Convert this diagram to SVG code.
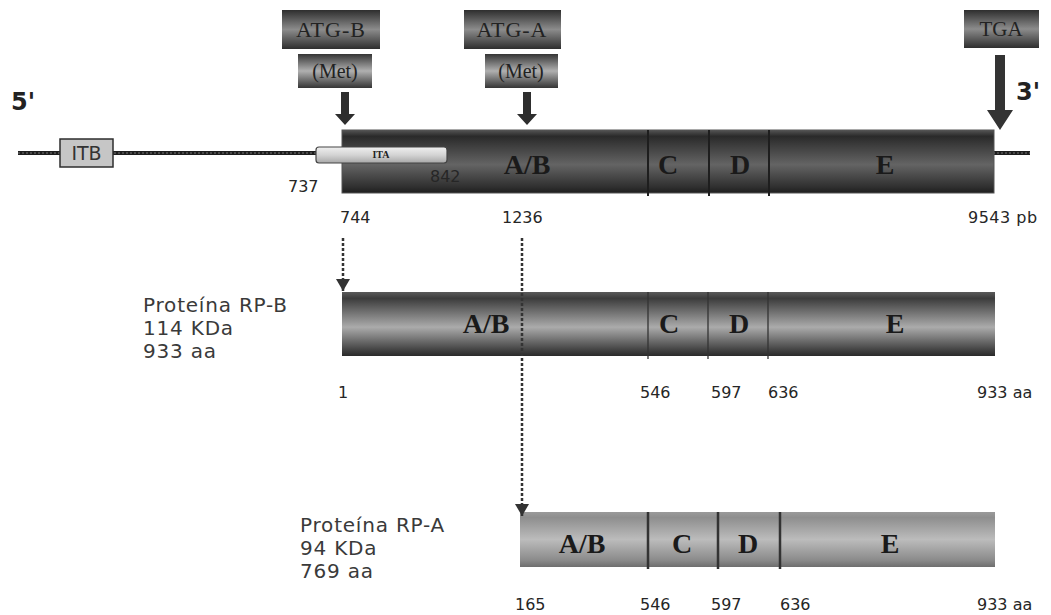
<svg xmlns="http://www.w3.org/2000/svg" width="1051" height="615" viewBox="0 0 1051 615">
<style>
.lbl{font-family:"Liberation Serif",serif;font-weight:bold;fill:#1a1a1a;text-anchor:middle}
.box{font-family:"Liberation Serif",serif;fill:#222;text-anchor:middle}
.num{font-family:"DejaVu Sans",sans-serif;font-size:16px;fill:#262626}
.prot{font-family:"DejaVu Sans",sans-serif;font-size:20px;letter-spacing:0.8px;fill:#3a3a3a}
.end{font-family:"DejaVu Sans",sans-serif;font-weight:bold;font-size:24px;fill:#222}
.div{stroke:#1e1e1e;stroke-width:2}
.dot{stroke:#333;stroke-width:2.5;stroke-dasharray:3 2;fill:none}
</style>
<defs>
<linearGradient id="gGene" x1="0" y1="0" x2="0" y2="1">
<stop offset="0" stop-color="#555"/><stop offset="0.1" stop-color="#2a2a2a"/><stop offset="0.55" stop-color="#646464"/><stop offset="0.9" stop-color="#303030"/><stop offset="1" stop-color="#1e1e1e"/>
</linearGradient>
<linearGradient id="gB" x1="0" y1="0" x2="0" y2="1">
<stop offset="0" stop-color="#5a5a5a"/><stop offset="0.1" stop-color="#3c3c3c"/><stop offset="0.55" stop-color="#ababab"/><stop offset="0.9" stop-color="#444"/><stop offset="1" stop-color="#2a2a2a"/>
</linearGradient>
<linearGradient id="gA" x1="0" y1="0" x2="0" y2="1">
<stop offset="0" stop-color="#9a9a9a"/><stop offset="0.1" stop-color="#8e8e8e"/><stop offset="0.5" stop-color="#bcbcbc"/><stop offset="0.88" stop-color="#8a8a8a"/><stop offset="1" stop-color="#6e6e6e"/>
</linearGradient>
<linearGradient id="gBox" x1="0" y1="0" x2="0" y2="1">
<stop offset="0" stop-color="#2e2e2e"/><stop offset="0.5" stop-color="#8c8c8c"/><stop offset="1" stop-color="#2e2e2e"/>
</linearGradient>
<linearGradient id="gMet" x1="0" y1="0" x2="0" y2="1">
<stop offset="0" stop-color="#353535"/><stop offset="0.5" stop-color="#b0b0b0"/><stop offset="1" stop-color="#353535"/>
</linearGradient>
<linearGradient id="gITA" x1="0" y1="0" x2="0" y2="1">
<stop offset="0" stop-color="#f0f0f0"/><stop offset="0.5" stop-color="#d4d4d4"/><stop offset="1" stop-color="#a8a8a8"/>
</linearGradient>
<marker id="tri" viewBox="0 0 14 12" refX="7" refY="12" markerWidth="14" markerHeight="12" orient="0" markerUnits="userSpaceOnUse">
<path d="M0,0 L14,0 L7,12 z" fill="#333"/>
</marker>
</defs>
<rect width="1051" height="615" fill="#fff"/>

<g id="dna">
<line x1="18" y1="153" x2="316" y2="153" stroke="#1e1e1e" stroke-width="4"/>
<line x1="18" y1="153" x2="316" y2="153" stroke="#777" stroke-width="1" stroke-dasharray="2 2"/>
<line x1="993" y1="153" x2="1030" y2="153" stroke="#1e1e1e" stroke-width="4"/>
<line x1="993" y1="153" x2="1030" y2="153" stroke="#777" stroke-width="1" stroke-dasharray="2 2"/>
<text class="end" x="11" y="110">5'</text>
<text class="end" x="1016" y="100">3'</text>
</g>

<g id="itb">
<rect x="60" y="139" width="53" height="28" fill="#c6c6c6" stroke="#2e2e2e" stroke-width="1.5"/>
<text x="86.5" y="160" font-family="DejaVu Sans, sans-serif" font-size="19" fill="#333" text-anchor="middle">ITB</text>
</g>

<g id="gene">
<rect x="342" y="130" width="652" height="63" fill="url(#gGene)" stroke="#555" stroke-width="1"/>
<line class="div" x1="648" y1="130" x2="648" y2="196"/>
<line class="div" x1="709" y1="130" x2="709" y2="196"/>
<line class="div" x1="769" y1="130" x2="769" y2="196"/>
<text class="lbl" x="527" y="174" font-size="28">A/B</text>
<text class="lbl" x="668" y="174" font-size="28">C</text>
<text class="lbl" x="740" y="174" font-size="28">D</text>
<text class="lbl" x="885" y="174" font-size="28">E</text>
<text class="num" x="288" y="192">737</text>
<text class="num" x="430" y="182">842</text>
<text class="num" x="340" y="223">744</text>
<text class="num" x="502" y="223">1236</text>
<text class="num" x="968" y="223" letter-spacing="0.5">9543 pb</text>
</g>

<g id="ita">
<rect x="316" y="147" width="131" height="16" rx="3" fill="url(#gITA)" stroke="#444" stroke-width="1.2"/>
<text x="381" y="158" font-family="Liberation Serif, serif" font-weight="bold" font-size="10" fill="#222" text-anchor="middle">ITA</text>
</g>

<g id="atgB">
<rect x="282" y="10" width="98" height="39" fill="url(#gBox)"/>
<text class="box" x="331" y="37" font-size="22" letter-spacing="1">ATG-B</text>
<rect x="298" y="54" width="74" height="34" fill="url(#gMet)"/>
<text class="box" x="335" y="78" font-size="20" fill="#3a3a3a">(Met)</text>
</g>

<g id="atgA">
<rect x="464" y="10" width="97" height="39" fill="url(#gBox)"/>
<text class="box" x="512" y="37" font-size="22" letter-spacing="1">ATG-A</text>
<rect x="485" y="54" width="73" height="34" fill="url(#gMet)"/>
<text class="box" x="521" y="78" font-size="20" fill="#3a3a3a">(Met)</text>
</g>

<g id="tga">
<rect x="964" y="10" width="75" height="38" fill="url(#gBox)"/>
<text class="box" x="1001" y="36" font-size="21">TGA</text>
</g>

<g id="protB">
<rect x="342" y="292" width="653" height="64" fill="url(#gB)"/>
<line stroke="#333" stroke-width="1.3" x1="648" y1="292" x2="648" y2="359"/>
<line stroke="#333" stroke-width="1.3" x1="708" y1="292" x2="708" y2="359"/>
<line stroke="#333" stroke-width="1.3" x1="768" y1="292" x2="768" y2="359"/>
<text class="lbl" x="486" y="333" font-size="28">A/B</text>
<text class="lbl" x="669" y="333" font-size="28">C</text>
<text class="lbl" x="739" y="333" font-size="28">D</text>
<text class="lbl" x="895" y="333" font-size="28">E</text>
<text class="prot" x="143" y="312">Proteína RP-B</text>
<text class="prot" x="143" y="335">114 KDa</text>
<text class="prot" x="143" y="358">933 aa</text>
<text class="num" x="338" y="398">1</text>
<text class="num" x="640" y="398">546</text>
<text class="num" x="711" y="398">597</text>
<text class="num" x="768" y="398">636</text>
<text class="num" x="977" y="398">933 aa</text>
</g>

<g id="protA">
<rect x="520" y="512" width="475" height="55" fill="url(#gA)"/>
<line stroke="#333" stroke-width="2.5" x1="648" y1="512" x2="648" y2="569"/>
<line stroke="#333" stroke-width="2.5" x1="718" y1="512" x2="718" y2="569"/>
<line stroke="#333" stroke-width="2.5" x1="780" y1="512" x2="780" y2="569"/>
<text class="lbl" x="582" y="553" font-size="28">A/B</text>
<text class="lbl" x="682" y="553" font-size="28">C</text>
<text class="lbl" x="748" y="553" font-size="28">D</text>
<text class="lbl" x="890" y="553" font-size="28">E</text>
<text class="prot" x="300" y="532">Proteína RP-A</text>
<text class="prot" x="300" y="555">94 KDa</text>
<text class="prot" x="300" y="578">769 aa</text>
<text class="num" x="515" y="610">165</text>
<text class="num" x="640" y="610">546</text>
<text class="num" x="711" y="610">597</text>
<text class="num" x="780" y="610">636</text>
<text class="num" x="977" y="610">933 aa</text>
</g>

<g id="connectors">
<path d="M341,92 h8 v22 h6 l-10,11 l-10,-11 h6 z" fill="#2e2e2e"/>
<path d="M523,92 h8 v22 h6 l-10,11 l-10,-11 h6 z" fill="#2e2e2e"/>
<path d="M995,55 h10 v55 h8 l-13,20 l-13,-20 h8 z" fill="#333"/>
<line class="dot" x1="343" y1="238" x2="343" y2="291" marker-end="url(#tri)"/>
<line class="dot" x1="522" y1="238" x2="522" y2="516" marker-end="url(#tri)"/>
</g>
</svg>
